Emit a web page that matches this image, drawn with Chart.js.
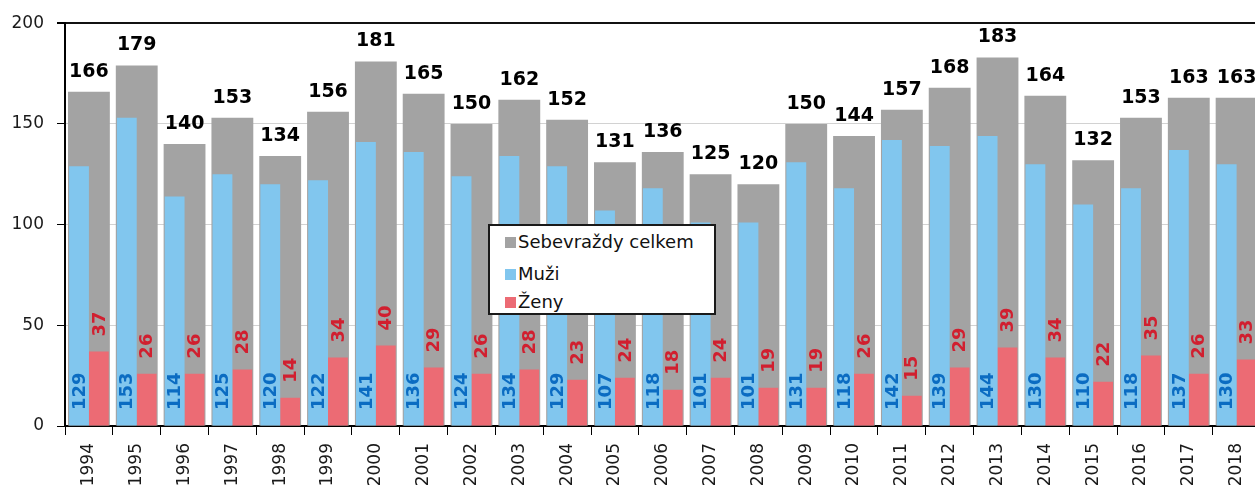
<!DOCTYPE html>
<html>
<head>
<meta charset="utf-8">
<script src="https://cdn.jsdelivr.net/npm/chart.js@4.4.1/dist/chart.umd.min.js"></script>
<style>
  html, body { margin: 0; padding: 0; overflow: hidden; background: #fff; }
  #wrap { position: relative; width: 1265px; height: 486px; }
  #legend {
    position: absolute; left: 488px; top: 224px; width: 224px; height: 87px;
    border: 2px solid #1a1a1a; background: #fff;
    font-family: "DejaVu Sans", sans-serif; font-size: 18px; color: #111;
  }
  .item { position: absolute; left: 15px; height: 22px; line-height: 22px; white-space: nowrap; }
  .box { display: inline-block; width: 11px; height: 11px; margin-right: 2px; vertical-align: 0px; }
</style>
</head>
<body>
<div id="wrap">
  <canvas id="chart" width="1265" height="486"></canvas>
  <div id="legend"></div>
</div>
<script>
// Sebevraždy 1994-2018
const years = ['1994','1995','1996','1997','1998','1999','2000','2001','2002','2003','2004','2005','2006',
               '2007','2008','2009','2010','2011','2012','2013','2014','2015','2016','2017','2018'];
const celkem = [166,179,140,153,134,156,181,165,150,162,152,131,136,125,120,150,144,157,168,183,164,132,153,163,163];
const muzi   = [129,153,114,125,120,122,141,136,124,134,129,107,118,101,101,131,118,142,139,144,130,110,118,137,130];
const zeny   = [37,26,26,28,14,34,40,29,26,28,23,24,18,24,19,19,26,15,29,39,34,22,35,26,33];
const yTicks = [0, 50, 100, 150, 200];

const labelColors = ['#000000', '#0b6cc2', '#d11f2f'];

// value labels: totals on top, men/women rotated
const valueLabels = {
  id: 'valueLabels',
  afterDatasetsDraw(chart) {
    const ctx = chart.ctx;
    const base = chart.scales.y.getPixelForValue(0);
    chart.data.datasets.forEach((ds, i) => {
      const meta = chart.getDatasetMeta(i);
      meta.data.forEach((bar, j) => {
        const v = ds.data[j];
        ctx.save();
        ctx.fillStyle = labelColors[i];
        if (i === 0) {
          ctx.font = 'bold 19px "DejaVu Sans"';
          ctx.textAlign = 'center';
          ctx.textBaseline = 'alphabetic';
          ctx.fillText(v, bar.x, bar.y - 15);
        } else {
          ctx.font = 'bold 18px "DejaVu Sans"';
          ctx.translate(bar.x, i === 1 ? base - 16 : bar.y - 15);
          ctx.rotate(-Math.PI / 2);
          ctx.textAlign = 'left';
          ctx.textBaseline = 'middle';
          ctx.fillText(v, 0, 1);
        }
        ctx.restore();
      });
    });
  }
};

const ctx = document.getElementById('chart').getContext('2d');
const chart = new Chart(ctx, {
  type: 'bar',
  data: {
    labels: years,
    datasets: [
      { label: 'Sebevraždy celkem', data: celkem, backgroundColor: '#a3a3a3',
        grouped: false, barPercentage: 0.875, categoryPercentage: 1, order: 2 },
      { label: 'Muži', data: muzi, backgroundColor: '#81c6ee',
        barPercentage: 1, categoryPercentage: 0.83, order: 1 },
      { label: 'Ženy', data: zeny, backgroundColor: '#ec6b74',
        barPercentage: 1, categoryPercentage: 0.83, order: 1 }
    ]
  },
  options: {
    responsive: false,
    animation: false,
    devicePixelRatio: 1,
    layout: { padding: { top: 21, right: 0, bottom: 0, left: 0 } },
    plugins: { legend: { display: false }, tooltip: { enabled: false } },
    scales: {
      x: {
        grid: { drawOnChartArea: false, drawTicks: true, tickLength: 9, tickColor: '#000', offset: true },
        border: { color: '#000', width: 2 },
        ticks: {
          autoSkip: false, minRotation: 90, maxRotation: 90, padding: 8,
          color: '#1a1a1a', font: { family: 'DejaVu Sans', size: 17 }
        },
        afterFit(scale) { scale.height = 60; }
      },
      y: {
        min: 0, max: 200,
        afterBuildTicks(scale) { scale.ticks = yTicks.map(v => ({ value: v })); },
        grid: {
          color: c => c.tick.value === 200 ? '#111' : '#d2d2d2',
          lineWidth: c => c.tick.value === 200 ? 2 : 1,
          tickColor: '#000', tickLength: 8
        },
        border: { color: '#000', width: 2 },
        ticks: { padding: 13, color: '#1a1a1a', font: { family: 'DejaVu Sans', size: 17 } },
        afterFit(scale) { scale.width = 65; }
      }
    }
  },
  plugins: [valueLabels]
});

// legend box inside the plot
const legendTops = [5, 37, 65];
const legend = document.getElementById('legend');
chart.data.datasets.forEach((ds, i) => {
  const item = document.createElement('div');
  item.className = 'item';
  item.style.top = legendTops[i] + 'px';
  item.innerHTML = '<span class="box" style="background:' + ds.backgroundColor + '"></span>' + ds.label;
  legend.appendChild(item);
});
</script>
</body>
</html>
